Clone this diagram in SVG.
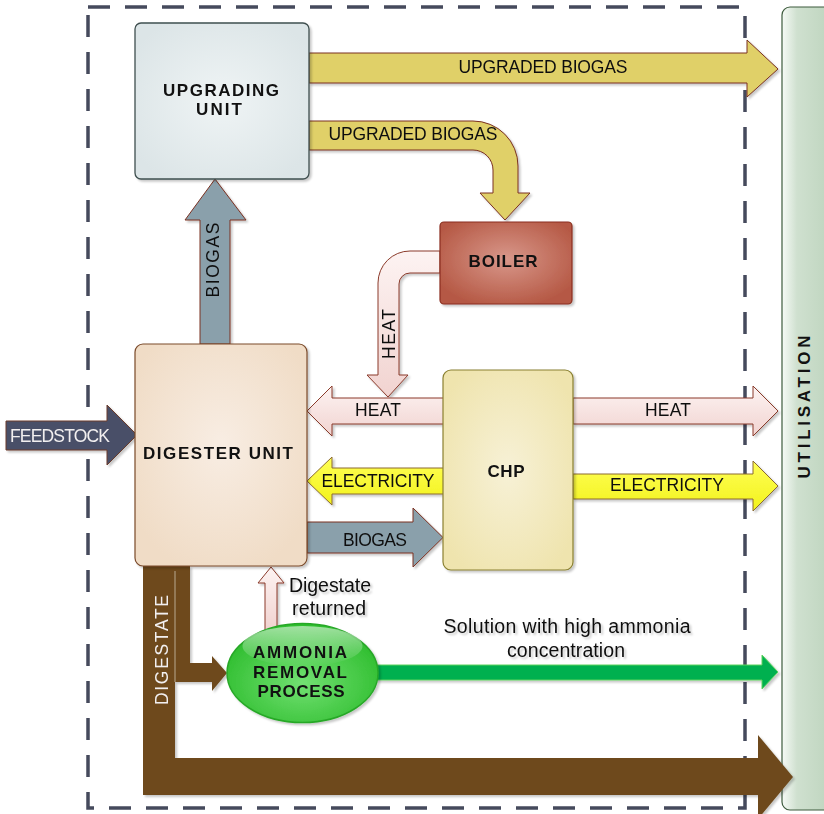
<svg xmlns="http://www.w3.org/2000/svg" width="824" height="814" viewBox="0 0 824 814">
  <style>
    text { font-family: "Liberation Sans", Arial, sans-serif; fill: #111; }
    .lbl { font-size: 17.5px; }
    .bold { font-size: 17px; font-weight: bold; }
    .light { fill: #f2eff0; }
    .yellow { fill: #e0d068; stroke: #7a3020; stroke-width: 1; }
    .gas { fill: #8aa0ab; stroke: #7a3020; stroke-width: 1; }
    .heat { fill: url(#heatGrad); stroke: #8a3a2a; stroke-width: 1; }
    .elec { fill: url(#elecGrad); stroke: #8a6a30; stroke-width: 1; }
  </style>
  <defs>
    <filter id="shadow" x="-10%" y="-10%" width="130%" height="130%">
      <feDropShadow dx="2" dy="2" stdDeviation="1.2" flood-color="#000" flood-opacity="0.22"/>
    </filter>
    <radialGradient id="upgGrad" cx="50%" cy="50%" r="60%">
      <stop offset="0" stop-color="#eff4f5"/>
      <stop offset="1" stop-color="#dce5e7"/>
    </radialGradient>
    <radialGradient id="digGrad" cx="50%" cy="45%" r="60%">
      <stop offset="0" stop-color="#f8ede3"/>
      <stop offset="1" stop-color="#f0dcc6"/>
    </radialGradient>
    <radialGradient id="boilGrad" cx="50%" cy="45%" r="60%">
      <stop offset="0" stop-color="#d8978a"/>
      <stop offset="1" stop-color="#b55844"/>
    </radialGradient>
    <radialGradient id="chpGrad" cx="50%" cy="50%" r="60%">
      <stop offset="0" stop-color="#f7f1d6"/>
      <stop offset="1" stop-color="#efe4ae"/>
    </radialGradient>
    <radialGradient id="ammGrad" cx="50%" cy="60%" r="60%">
      <stop offset="0" stop-color="#72e072"/>
      <stop offset="1" stop-color="#2cbc2c"/>
    </radialGradient>
    <linearGradient id="ammShine" x1="0" y1="0" x2="0" y2="1">
      <stop offset="0" stop-color="#ffffff" stop-opacity="0.55"/>
      <stop offset="1" stop-color="#ffffff" stop-opacity="0"/>
    </linearGradient>
    <linearGradient id="utilGrad" x1="0" y1="0" x2="1" y2="0">
      <stop offset="0" stop-color="#f6faf6"/>
      <stop offset="0.25" stop-color="#cfe0cf"/>
      <stop offset="1" stop-color="#b9d1b9"/>
    </linearGradient>
    <linearGradient id="heatGrad" x1="0" y1="0" x2="0" y2="1">
      <stop offset="0" stop-color="#fdf3f2"/>
      <stop offset="1" stop-color="#f1d3d0"/>
    </linearGradient>
    <linearGradient id="elecGrad" x1="0" y1="0" x2="0" y2="1">
      <stop offset="0" stop-color="#ffff55"/>
      <stop offset="1" stop-color="#f2f21c"/>
    </linearGradient>
  </defs>

  <!-- plant boundary -->
  <rect x="88" y="7" width="657" height="801" fill="none" stroke="#454a5c" stroke-width="3.5" stroke-dasharray="22 15"/>

  <!-- utilisation column -->
  <g id="utilisation">
    <rect x="782" y="7" width="60" height="803" rx="8" fill="url(#utilGrad)" stroke="#3c5a3c" stroke-width="1.2"/>
    <text class="bold" transform="translate(810,407) rotate(-90)" text-anchor="middle" textLength="143" lengthAdjust="spacing">UTILISATION</text>
  </g>

  <!-- flows between units -->
  <g id="connectors" filter="url(#shadow)">
    <!-- upgraded biogas to utilisation -->
    <polygon class="yellow" points="309,53 747,53 747,40 778,69 747,97 747,83 309,83"/>
    <text class="lbl" x="543" y="73" text-anchor="middle" textLength="169" lengthAdjust="spacing">UPGRADED BIOGAS</text>

    <!-- upgraded biogas to boiler -->
    <path class="yellow" d="M309,121 H473 A45,45 0 0 1 518,166 V193 H530 L505,220 L480,193 H493 V170 A20,20 0 0 0 473,150 H309 Z"/>
    <text class="lbl" x="413" y="140" text-anchor="middle" textLength="169" lengthAdjust="spacing">UPGRADED BIOGAS</text>

    <!-- biogas to upgrading unit -->
    <polygon class="gas" points="200,344 200,220 185,220 215,179 246,220 230,220 230,344"/>
    <text class="lbl" transform="translate(219,260) rotate(-90)" text-anchor="middle" textLength="75" lengthAdjust="spacing">BIOGAS</text>

    <!-- biogas to CHP -->
    <polygon class="gas" points="307,522 413,522 413,508 443,537.5 413,567 413,553 307,553"/>
    <text class="lbl" x="375" y="546" text-anchor="middle" textLength="64" lengthAdjust="spacing">BIOGAS</text>

    <!-- feedstock -->
    <polygon points="6,421 107,421 107,405 137,435 107,465 107,450 6,450" fill="#4a5068" stroke="#6a3a2a" stroke-width="1"/>
    <text class="lbl light" x="10" y="442" textLength="100" lengthAdjust="spacing">FEEDSTOCK</text>

    <!-- heat from boiler -->
    <path class="heat" d="M440,251 H410 A32,32 0 0 0 378,283 V375 H367 L388,397 L408,375 H399 V284 A11,11 0 0 1 410,273 H440 Z"/>
    <text class="lbl" transform="translate(395,334) rotate(-90)" text-anchor="middle" textLength="50" lengthAdjust="spacing">HEAT</text>

    <!-- heat from CHP to digester -->
    <polygon class="heat" points="444,398 332,398 332,386 307,411 332,436 332,424 444,424"/>
    <text class="lbl" x="378" y="416" text-anchor="middle" textLength="46" lengthAdjust="spacing">HEAT</text>

    <!-- heat from CHP to utilisation -->
    <polygon class="heat" points="573,398 753,398 753,386 778,411 753,436 753,424 573,424"/>
    <text class="lbl" x="668" y="416" text-anchor="middle" textLength="46" lengthAdjust="spacing">HEAT</text>

    <!-- electricity from CHP to digester -->
    <polygon class="elec" points="444,468 332,468 332,457 307,481 332,505 332,494 444,494"/>
    <text class="lbl" x="378" y="487" text-anchor="middle" textLength="113" lengthAdjust="spacing">ELECTRICITY</text>

    <!-- electricity from CHP to utilisation -->
    <polygon class="elec" points="573,474 753,474 753,461 778,486 753,511 753,499 573,499"/>
    <text class="lbl" x="667" y="491" text-anchor="middle" textLength="114" lengthAdjust="spacing">ELECTRICITY</text>

    <!-- digestate -->
    <polygon points="143,566 190,566 190,663 212,663 212,656 227,673 212,691 212,682 175,682 175,758 758,758 758,735 793,777 758,819 758,795 143,795" fill="#6e4a1e"/>
    <line x1="175" y1="571" x2="175" y2="682" stroke="#b8a890" stroke-width="1"/>
    <text class="lbl light" transform="translate(168,650) rotate(-90)" text-anchor="middle" textLength="110" lengthAdjust="spacing">DIGESTATE</text>

    <!-- digestate returned -->
    <polygon class="heat" points="265,630 265,583 258,583 271,567 284,583 277,583 277,630"/>
    <text x="330" y="592" text-anchor="middle" font-size="19.5" textLength="82" lengthAdjust="spacing">Digestate</text>
    <text x="329" y="615" text-anchor="middle" font-size="19.5" textLength="74" lengthAdjust="spacing">returned</text>

    <!-- ammonia-rich solution -->
    <polygon points="376,665 762,665 762,655 778,672 762,689 762,680 376,680" fill="#00b050" stroke="#5ed25e" stroke-width="1"/>
    <text x="567" y="633" text-anchor="middle" font-size="19.5" textLength="247" lengthAdjust="spacing">Solution with high ammonia</text>
    <text x="566" y="657" text-anchor="middle" font-size="19.5" textLength="118" lengthAdjust="spacing">concentration</text>
  </g>

  <g id="upgrading-unit">
    <rect x="135" y="23" width="174" height="156" rx="6" fill="url(#upgGrad)" stroke="#3f4f4f" stroke-width="1.3" filter="url(#shadow)"/>
    <text class="bold" x="221" y="96" text-anchor="middle" textLength="116" lengthAdjust="spacing">UPGRADING</text>
    <text class="bold" x="219" y="115" text-anchor="middle" textLength="46" lengthAdjust="spacing">UNIT</text>
  </g>

  <g id="boiler">
    <rect x="440" y="222" width="132" height="82" rx="4" fill="url(#boilGrad)" stroke="#8a2e1e" stroke-width="1.2" filter="url(#shadow)"/>
    <text class="bold" x="503" y="267" text-anchor="middle" textLength="69" lengthAdjust="spacing">BOILER</text>
  </g>

  <g id="digester-unit">
    <rect x="135" y="344" width="172" height="222" rx="8" fill="url(#digGrad)" stroke="#7a4a2a" stroke-width="1.2" filter="url(#shadow)"/>
    <text class="bold" x="218" y="459" text-anchor="middle" textLength="150" lengthAdjust="spacing">DIGESTER UNIT</text>
  </g>

  <g id="chp">
    <rect x="443" y="370" width="130" height="200" rx="8" fill="url(#chpGrad)" stroke="#8a8030" stroke-width="1.2" filter="url(#shadow)"/>
    <text class="bold" x="506" y="477" text-anchor="middle" textLength="37" lengthAdjust="spacing">CHP</text>
  </g>

  <g id="ammonia-removal">
    <ellipse cx="302.5" cy="673" rx="75.5" ry="49.5" fill="url(#ammGrad)" stroke="#28a828" stroke-width="1.5" filter="url(#shadow)"/>
    <ellipse cx="302.5" cy="646" rx="60" ry="20" fill="url(#ammShine)"/>
    <text class="bold" x="300" y="658" text-anchor="middle" textLength="94" lengthAdjust="spacing">AMMONIA</text>
    <text class="bold" x="300" y="678" text-anchor="middle" textLength="94" lengthAdjust="spacing">REMOVAL</text>
    <text class="bold" x="301" y="697" text-anchor="middle" textLength="87" lengthAdjust="spacing">PROCESS</text>
  </g>
</svg>
